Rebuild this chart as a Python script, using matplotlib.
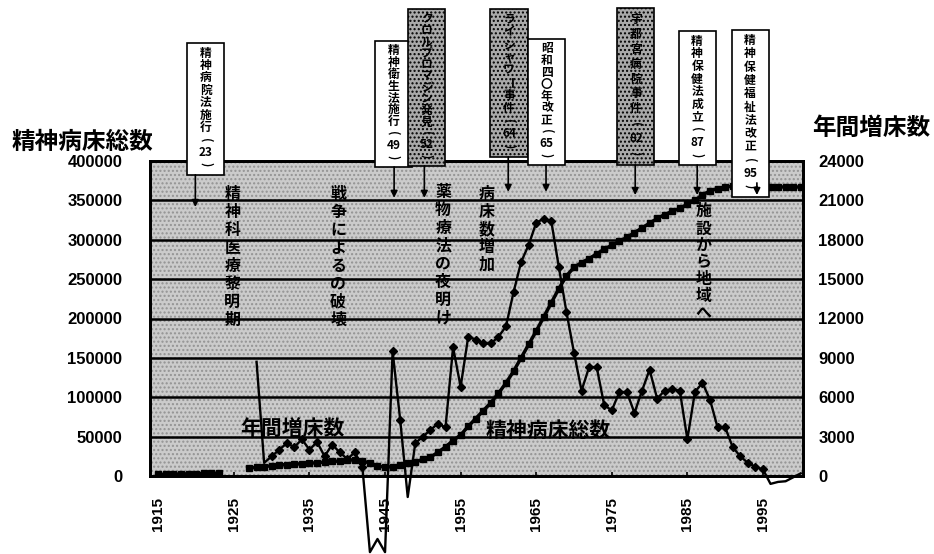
import re
import numpy as np
import matplotlib
matplotlib.use("Agg")
from matplotlib import pyplot as plt
from matplotlib.patches import Rectangle

plt.rcParams['font.family'] = ['Noto Sans CJK JP', 'DejaVu Sans']

# Data
#----------------------------------------------------

# total psychiatric beds (left axis)
total_years = list(range(1915, 2001))
total_beds = [2000, 2200, 2400, 2600, 2800, 3000, 3200, 3400, 3500,
              np.nan, np.nan, np.nan,
              10000, 11000, 12000, 13000, 14000, 14500, 15000, 15500, 16000,
              17000, 17500, 18500, 19000, 20000, 20500, 19000, 16500, 13000,
              11000, 12000, 14000, 16000, 18000, 21000, 24000, 30000, 37000,
              45000, 52000, 63000, 73000, 83000, 93000, 105000, 118000, 133000,
              150000, 167000, 184000, 202000, 220000, 238000, 254000, 265000,
              271000, 276000, 282000, 288000, 293000, 298000, 303000, 309000,
              315000, 321000, 327000, 332000, 336000, 340000, 345000, 350000,
              357000, 362000, 365000, 367000, 368000, 368000, 368000, 367000,
              367000, 367000, 367000, 367000, 367000, 367000]

# annual increase of beds (right axis)
inc_years = list(range(1928, 2001))
inc_beds = [8700, 1000, 1500, 2000, 2500, 2200, 2800, 2000, 2600, 1500,
            2400, 1800, 1300, 1800, 700, -5800, -4800, -5800, 9500, 4300,
            -1600, 2500, 3000, 3500, 4000, 3700, 9800, 6800, 10600, 10400,
            10100, 10100, 10600, 11400, 14000, 16300, 17600, 19300, 19600,
            19400, 15900, 12500, 9400, 6500, 8300, 8300, 5400, 5000, 6400,
            6400, 4800, 6500, 8100, 5900, 6500, 6600, 6500, 2800, 6400, 7100,
            5800, 3700, 3700, 2200, 1500, 1000, 700, 500, -600, -450, -400,
            -100, 200]

left_ticks = [0, 50000, 100000, 150000, 200000, 250000, 300000, 350000, 400000]
right_ticks = [0, 3000, 6000, 9000, 12000, 15000, 18000, 21000, 24000]
x_ticks = [1915, 1925, 1935, 1945, 1955, 1965, 1975, 1985, 1995]

events = ["精神病院法施行(23)", "精神衛生法施行(49)", "クロルプロマジン発見(52)",
          "ライシャワー事件(64)", "昭和四〇年改正(65)", "宇都宮病院事件(82)",
          "精神保健法成立(87)", "精神保健福祉法改正(95)"]

periods = ["精神科医療黎明期", "戦争によるの破壊", "薬物療法の夜明け",
           "病床数増加", "施設から地域へ"]

# Layout (x in years, y in axes fraction)
#----------------------------------------------------
# box centre, box top, box bottom, arrow x, arrow tip, shaded
BOXES = [
    (1921.3, 1.375, 0.956, 1919.9, 0.854, False),
    (1946.1, 1.381, 0.981, 1946.2, 0.883, False),
    (1950.5, 1.483, 0.984, 1950.2, 0.883, True),
    (1961.4, 1.483, 1.013, 1961.3, 0.902, True),
    (1966.4, 1.387, 0.987, 1966.3, 0.902, False),
    (1978.2, 1.486, 0.987, 1978.1, 0.892, True),
    (1986.3, 1.413, 0.987, 1986.3, 0.892, False),
    (1993.3, 1.416, 0.886, 1994.2, 0.892, False),
]
BOX_W = 4.9
PERIOD_POS = [(1924.8, 0.895, 0.057), (1938.8, 0.895, 0.057),
              (1952.7, 0.902, 0.057), (1958.4, 0.895, 0.056),
              (1987.1, 0.840, 0.054)]
PX = 1 / 315.0  # one pixel in axes fraction (vertical)
# years of the increase series drawn without a marker
NO_MARK = {1928, 1929, 1943, 1944, 1945, 1948}


def tokens(s):
    return re.findall(r"\d+|.", s)


def vtext(ax, x, y0, step, s, **kw):
    trans = ax.get_xaxis_transform()
    for i, tok in enumerate(tokens(s)):
        rot = 270 if tok in "()ー" else 0
        ax.text(x, y0 - i * step, tok, transform=trans, rotation=rot,
                ha="center", va="center", clip_on=False, **kw)


# Plot
#----------------------------------------------------
fig = plt.figure(figsize=(9.34, 5.54), dpi=100)
ax = fig.add_axes([150 / 934, 1 - 476 / 554, 653 / 934, 315 / 554])
ax2 = ax.twinx()

ax.set_facecolor("#cbcbcb")
ax.add_patch(Rectangle((0, 0), 1, 1, transform=ax.transAxes, facecolor="none",
                       hatch="....", edgecolor="#939393", lw=0, zorder=0))
ax.set_axisbelow(True)
ax.grid(axis="y", color="black", lw=1.8)
ax.grid(axis="x", visible=False)

ax.plot(total_years, total_beds, color="black", lw=2.5, marker="s",
        markersize=5, zorder=3)
marks = [i for i, y in enumerate(inc_years) if y <= 1995 and y not in NO_MARK]
ax2.plot(inc_years, inc_beds, color="black", lw=1.7, marker="D",
         markersize=4.2, markevery=marks, clip_on=False, zorder=4)

ax.set_xlim(1913.9, 2000.3)
ax.set_ylim(0, 400000)
ax2.set_ylim(0, 24000)
ax.set_yticks(left_ticks)
ax2.set_yticks(right_ticks)
ax.set_xticks(x_ticks)
ax.set_xticklabels([str(x) for x in x_ticks], rotation=90,
                   fontfamily="Liberation Sans", fontweight="bold", fontsize=11)
for lab in ax.get_yticklabels() + ax2.get_yticklabels():
    lab.set_fontfamily("Liberation Sans")
    lab.set_fontweight("bold")
    lab.set_fontsize(12)
ax.tick_params(axis="y", length=0, pad=20)
ax2.tick_params(axis="y", length=0, pad=11)
ax.tick_params(axis="x", direction="in", length=3, width=1.2, pad=15)
for a in (ax, ax2):
    for sp in a.spines.values():
        sp.set_linewidth(2)
        sp.set_color("black")

# axis titles
fig.text(82 / 934, 1 - 142 / 554, "精神病床総数", fontsize=17,
         fontweight="bold", ha="center", va="center")
fig.text(871 / 934, 1 - 128 / 554, "年間増床数", fontsize=17,
         fontweight="bold", ha="center", va="center")

# event boxes with arrows
trans = ax2.get_xaxis_transform()
for label, (xc, top, bot, xa, tip, shaded) in zip(events, BOXES):
    ax2.add_patch(Rectangle((xc - BOX_W / 2, bot), BOX_W, top - bot,
                            transform=trans, clip_on=False, zorder=8,
                            facecolor="#a9a9a9" if shaded else "white",
                            hatch="...." if shaded else None,
                            edgecolor="black", lw=1.2))
    n = len(tokens(label))
    step = (top - bot - 8 * PX) / n
    vtext(ax2, xc, top - 4 * PX - step / 2, step, label, fontsize=8.5,
          fontweight="bold", zorder=9)
    start = bot if tip < bot else bot + 14 * PX
    ax2.annotate("", xy=(xa, tip), xytext=(xa, start), xycoords=trans,
                 textcoords=trans, annotation_clip=False, zorder=9,
                 arrowprops=dict(arrowstyle="-|>", color="black", lw=1.2,
                                 mutation_scale=10, shrinkA=0, shrinkB=0))

# period labels inside the plot
for label, (xp, y0, step) in zip(periods, PERIOD_POS):
    vtext(ax2, xp, y0, step, label, fontsize=11.5, fontweight="bold", zorder=7)

ax2.text(1932.7, 0.152, "年間増床数", transform=trans, fontsize=15,
         fontweight="bold", ha="center", va="center", zorder=7)
ax2.text(1966.6, 0.146, "精神病床総数", transform=trans, fontsize=15,
         fontweight="bold", ha="center", va="center", zorder=7)

fig.savefig("out.png", dpi=100)
